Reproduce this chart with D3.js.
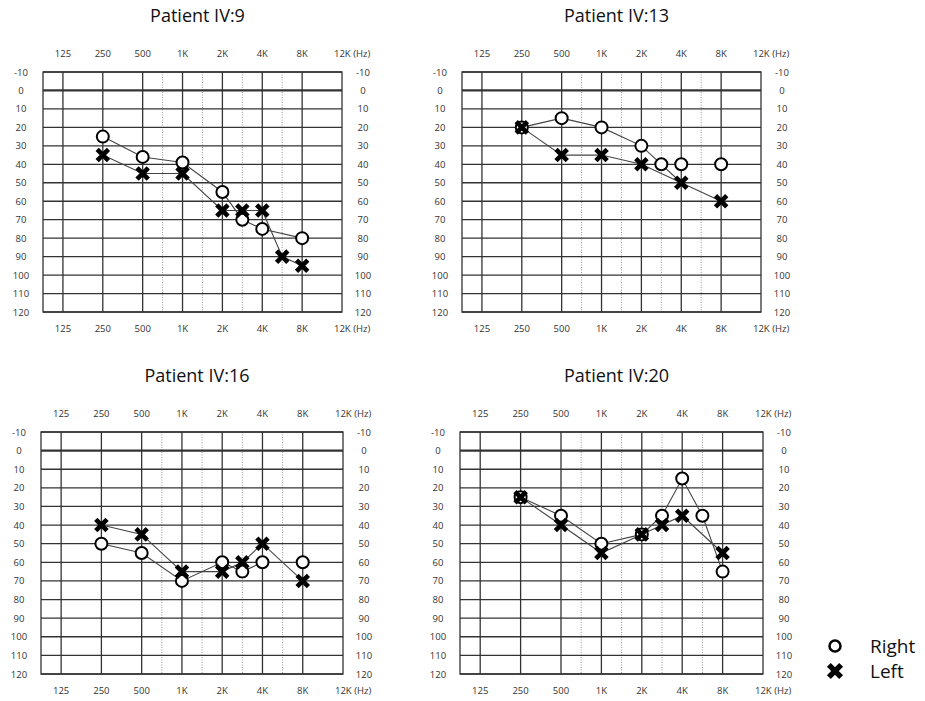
<!DOCTYPE html>
<html>
<head>
<meta charset="utf-8">
<script src="https://d3js.org/d3.v7.min.js"></script>
<style>
  body { margin: 0; background: #fff; }
  svg { display: block; font-family: "Open Sans", "Noto Sans", sans-serif; }
</style>
</head>
<body>
<svg width="925" height="701"></svg>
<script>
// audiogram frequencies (Hz) and tick labels
const freqs = [125, 250, 500, 750, 1000, 1500, 2000, 3000, 4000, 6000, 8000];
const freqPos = [0, 1, 2, 2.5, 3, 3.5, 4, 4.5, 5, 5.5, 6];
const octaveFreqs = [125, 250, 500, 1000, 2000, 4000, 8000];
const halfFreqs = [750, 1500, 3000, 6000];
const freqLabels = ["125", "250", "500", "1K", "2K", "4K", "8K"];
const dbTicks = [-10, 0, 10, 20, 30, 40, 50, 60, 70, 80, 90, 100, 110, 120];

const titles = ["Patient IV:9", "Patient IV:13", "Patient IV:16", "Patient IV:20"];

// [freq, dB HL]
const iv9Right = [[250, 25], [500, 36], [1000, 39], [2000, 55], [3000, 70], [4000, 75], [8000, 80]];
const iv9Left = [[250, 35], [500, 45], [1000, 45], [2000, 65], [3000, 65], [4000, 65], [6000, 90], [8000, 95]];

const iv13Right = [[250, 20], [500, 15], [1000, 20], [2000, 30], [3000, 40], [4000, 40], [8000, 40]];
const iv13RightLine = [[250, 20], [500, 15], [1000, 20], [2000, 30], [3000, 40], [4000, 50]];
const iv13Left = [[250, 20], [500, 35], [1000, 35], [2000, 40], [4000, 50], [8000, 60]];

const iv16Right = [[250, 50], [500, 55], [1000, 70], [2000, 60], [3000, 65], [4000, 60], [8000, 60]];
const iv16RightLine = [[250, 50], [500, 55], [1000, 70], [2000, 60], [3000, 65], [4000, 60]];
const iv16Left = [[250, 40], [500, 45], [1000, 65], [2000, 65], [3000, 60], [4000, 50], [8000, 70]];

const iv20Right = [[250, 25], [500, 35], [1000, 50], [2000, 45], [3000, 35], [4000, 15], [6000, 35], [8000, 65]];
const iv20Left = [[250, 25], [500, 40], [1000, 55], [2000, 45], [3000, 40], [4000, 35], [8000, 55]];

// panel frames (layout)
const frames = [
  { x: 43, y: 72, w: 299, h: 240 },
  { x: 462, y: 72, w: 299, h: 240 },
  { x: 41, y: 432, w: 302, h: 242 },
  { x: 460, y: 432, w: 303, h: 242 }
];

const panels = [
  { title: titles[0], right: iv9Right, rightLine: iv9Right, left: iv9Left, leftLine: iv9Left },
  { title: titles[1], right: iv13Right, rightLine: iv13RightLine, left: iv13Left, leftLine: iv13Left },
  { title: titles[2], right: iv16Right, rightLine: iv16RightLine, left: iv16Left, leftLine: iv16Left },
  { title: titles[3], right: iv20Right, rightLine: iv20Right, left: iv20Left, leftLine: iv20Left }
];

const svg = d3.select("svg");
const posOf = d3.scaleOrdinal().domain(freqs).range(freqPos);

panels.forEach((p, i) => {
  const f = frames[i];
  const x = d3.scaleLinear().domain([-0.5, 7]).range([f.x, f.x + f.w]);
  const y = d3.scaleLinear().domain([-10, 120]).range([f.y, f.y + f.h]);
  const fx = d => x(posOf(d[0]));
  const g = svg.append("g");

  // title
  g.append("text")
    .attr("x", (x.range()[0] + x.range()[1]) / 2 + 5)
    .attr("y", f.y - 50)
    .attr("text-anchor", "middle")
    .attr("font-size", 18)
    .attr("fill", "#111")
    .text(p.title);

  // half-octave dotted lines
  g.selectAll(".half").data(halfFreqs).join("line")
    .attr("x1", d => x(posOf(d))).attr("x2", d => x(posOf(d)))
    .attr("y1", y(-10)).attr("y2", y(120))
    .attr("stroke", "#999").attr("stroke-width", 1)
    .attr("stroke-dasharray", "1,1.5");

  // horizontal grid
  g.selectAll(".hgrid").data(dbTicks).join("line")
    .attr("x1", x(-0.5)).attr("x2", x(7))
    .attr("y1", d => y(d)).attr("y2", d => y(d))
    .attr("stroke", "#333")
    .attr("stroke-width", d => d === 0 ? 2.2 : 1.3);

  // vertical grid
  g.selectAll(".vgrid").data(octaveFreqs).join("line")
    .attr("x1", d => x(posOf(d))).attr("x2", d => x(posOf(d)))
    .attr("y1", y(-10)).attr("y2", y(120))
    .attr("stroke", "#333").attr("stroke-width", 1.3);

  g.append("rect")
    .attr("x", x(-0.5)).attr("y", y(-10))
    .attr("width", x(7) - x(-0.5)).attr("height", y(120) - y(-10))
    .attr("fill", "none").attr("stroke", "#333").attr("stroke-width", 1.3);

  // frequency labels top and bottom
  [f.y - 15, f.y + f.h + 20].forEach(ty => {
    g.selectAll(null).data(octaveFreqs).join("text")
      .attr("x", d => x(posOf(d)))
      .attr("y", ty)
      .attr("text-anchor", "middle")
      .attr("font-size", 9.5)
      .attr("fill", "#333")
      .text((d, k) => freqLabels[k]);
    g.append("text")
      .attr("x", x(7) - 8)
      .attr("y", ty)
      .attr("font-size", 9.5)
      .attr("fill", "#333")
      .text("12K (Hz)");
  });

  // dB labels left and right
  [x(-0.5) - 22, x(7) + 21].forEach(tx => {
    g.selectAll(null).data(dbTicks).join("text")
      .attr("x", tx)
      .attr("y", d => y(d) + 3.5)
      .attr("text-anchor", "middle")
      .attr("font-size", 9.5)
      .attr("fill", "#333")
      .text(d => d);
  });

  // connecting lines
  const line = d3.line().x(fx).y(d => y(d[1]));
  [p.rightLine, p.leftLine].forEach(ld => {
    g.append("path").datum(ld)
      .attr("d", line)
      .attr("fill", "none")
      .attr("stroke", "#444")
      .attr("stroke-width", 1.1);
  });

  // markers: O right, X left
  g.selectAll(".o").data(p.right).join("circle")
    .attr("cx", fx).attr("cy", d => y(d[1]))
    .attr("r", 6)
    .attr("fill", "#fff").attr("stroke", "#000").attr("stroke-width", 2);

  g.selectAll(".xm").data(p.left).join("path")
    .attr("d", d3.symbol(d3.symbolX, 85))
    .attr("transform", d => `translate(${fx(d)},${y(d[1])})`)
    .attr("fill", "none").attr("stroke", "#000").attr("stroke-width", 4.6);
});

// legend
const legend = svg.append("g");
legend.append("circle")
  .attr("cx", 835).attr("cy", 646).attr("r", 5.5)
  .attr("fill", "#fff").attr("stroke", "#000").attr("stroke-width", 2.5);
legend.append("path")
  .attr("d", d3.symbol(d3.symbolX, 100))
  .attr("transform", "translate(835,671)")
  .attr("fill", "none").attr("stroke", "#000").attr("stroke-width", 5.5);
legend.append("text").attr("x", 870).attr("y", 653)
  .attr("font-size", 19).attr("fill", "#111").text("Right");
legend.append("text").attr("x", 870).attr("y", 678)
  .attr("font-size", 19).attr("fill", "#111").text("Left");
</script>
</body>
</html>
